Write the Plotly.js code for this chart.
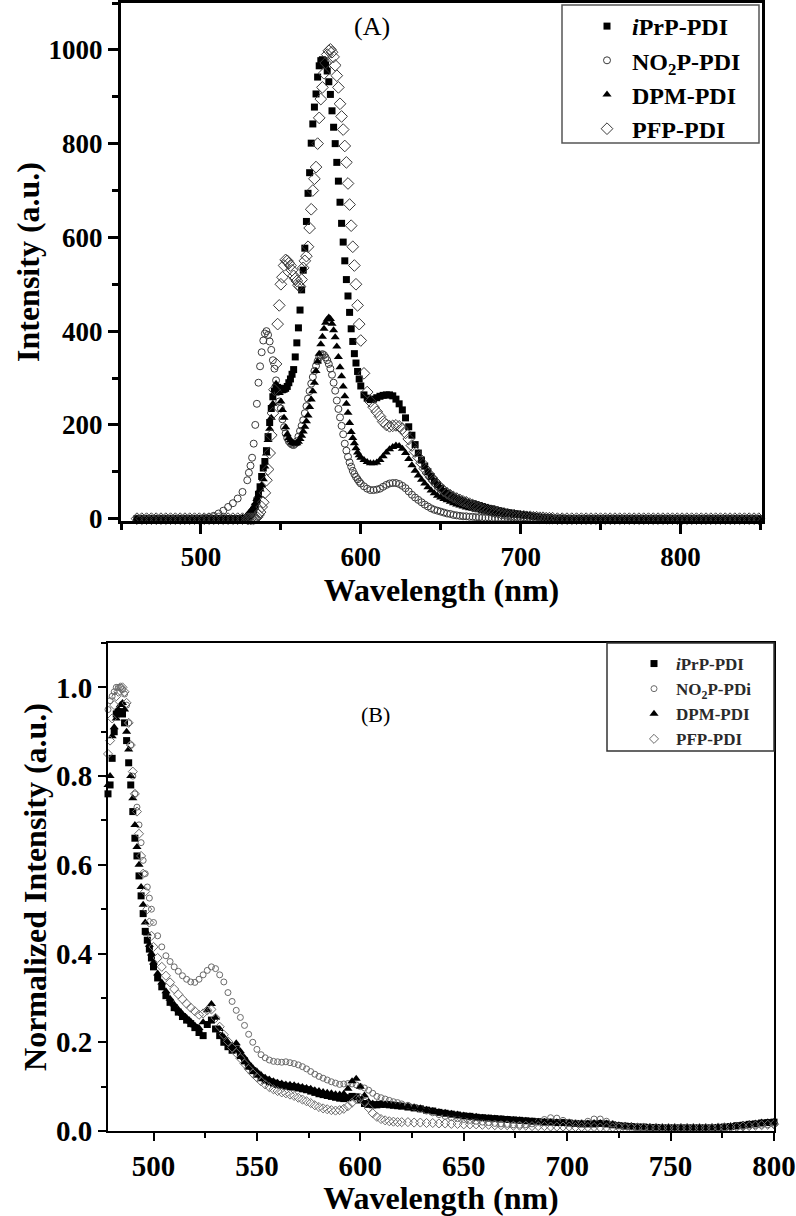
<!DOCTYPE html>
<html>
<head>
<meta charset="utf-8">
<script src="https://cdn.plot.ly/plotly-3.0.1.min.js"></script>
<style>
  body { margin: 0; background: #fff; }
  #chart { width: 796px; height: 1216px; }
</style>
</head>
<body>
<div id="chart"></div>
<script>
// Panel (A): emission spectra, wavelength in nm
const wavelengthA = [
  460,463,466,469,472,475,478,481,484,487,490,493,496,499,502,505,508,511,514,517,520,523,526,529,
  530,531,532,533,534,535,536,537,538,539,540,541,542,543,544,545,546,547,548,549,
  550,551,552,553,554,555,556,557,558,559,560,561,562,563,564,565,566,567,568,569,
  570,571,572,573,574,575,576,577,578,579,580,581,582,583,584,585,586,587,588,589,
  590,591,592,593,594,595,596,597,598,599,600,
  602,604,606,608,610,612,614,616,618,620,622,624,626,628,630,632,634,636,638,640,
  642,644,646,648,650,652,654,656,658,660,662,664,666,668,670,672,674,676,678,680,
  682,684,686,688,690,692,694,696,698,700,702,704,706,708,710,712,714,716,718,720,
  723,726,729,732,735,738,741,744,747,750,753,756,759,762,765,768,771,774,777,780,
  783,786,789,792,795,798,801,804,807,810,813,816,819,822,825,828,831,834,837,840,843,846,849
];

const intensityIPrP = [
  0,0,0,0,0,0,0,0,0,0,0,0,0,0,0,0,0,0,0,0,0,0,0,2,
  5,8,12,18,26,38,52,68,90,108,122,145,175,205,235,260,272,278,280,278,
  275,275,276,278,282,290,298,308,318,345,375,407,445,488,530,577,634,694,738,801,
  842,878,906,942,966,977,979,977,968,955,932,905,870,835,800,760,720,675,630,590,
  550,510,475,440,405,378,352,332,314,298,283,
  264,257,254,255,258,261,263,264,264,262,255,245,232,215,196,178,158,140,125,112,
  100,90,80,72,65,58,54,50,46,43,40,38,35,33,32,30,28,26,24,22,
  21,19,17,16,14,13,12,11,10,9,8,7,6,5,4,3,3,2,2,1,
  1,1,0,0,0,0,0,0,0,0,0,0,0,0,0,0,0,0,0,0,
  0,0,0,0,0,0,0,0,0,0,0,0,0,0,0,0,0,0,0,0,0,0,0
];

const intensityNO2P = [
  0,0,0,0,0,0,0,0,0,0,0,0,0,0,1,3,6,11,17,25,33,43,57,82,
  98,113,130,160,200,245,290,325,355,380,395,400,392,378,360,338,320,295,270,250,
  235,212,195,182,172,165,161,158,157,160,165,175,187,198,210,225,240,256,272,288,
  302,315,326,336,344,349,351,349,344,338,330,320,307,290,273,252,234,216,198,180,
  160,145,132,120,111,102,95,89,84,79,75,
  69,64,61,61,62,64,68,72,75,76,76,74,70,65,58,51,45,40,35,30,
  26,22,19,17,15,13,11,10,8,7,6,5,5,4,4,3,3,2,2,2,
  1,1,1,1,1,1,1,1,0,0,0,0,0,0,0,0,0,0,0,0,
  0,0,0,0,0,0,0,0,0,0,0,0,0,0,0,0,0,0,0,0,
  0,0,0,0,0,0,0,0,0,0,0,0,0,0,0,0,0,0,0,0,0,0,0
];

const intensityDPM = [
  0,0,0,0,0,0,0,0,0,0,0,0,0,0,0,0,0,0,0,0,0,0,2,8,
  12,15,20,25,33,42,50,62,72,84,111,139,168,192,215,245,275,288,280,268,
  250,232,215,195,180,172,167,163,161,160,161,164,170,177,186,196,208,220,238,254,
  272,290,315,335,352,372,388,405,418,425,429,426,416,402,387,367,345,323,304,282,
  261,245,226,204,185,172,161,150,141,135,130,
  125,121,118,118,120,125,133,141,148,153,156,155,149,140,127,114,102,92,83,75,
  67,60,54,49,45,42,39,36,33,30,28,26,24,22,21,19,18,16,15,14,
  12,11,10,9,8,7,7,6,6,5,5,4,4,3,3,2,2,1,1,1,
  0,0,0,0,0,0,0,0,0,0,0,0,0,0,0,0,0,0,0,0,
  0,0,0,0,0,0,0,0,0,0,0,0,0,0,0,0,0,0,0,0,0,0,0
];

const intensityPFP = [
  0,0,0,0,0,0,0,0,0,0,0,0,0,0,0,0,0,0,0,0,0,0,0,0,
  0,0,0,0,1,3,8,14,25,35,55,82,105,140,178,225,275,330,415,455,
  500,515,540,552,550,545,540,530,518,512,507,498,495,510,535,550,560,580,620,660,
  700,725,750,800,855,895,920,950,972,990,998,1001,995,985,967,945,920,885,858,830,
  795,760,715,670,625,580,540,500,455,415,380,
  310,270,250,238,228,218,207,200,197,198,199,197,192,183,170,156,143,131,119,107,
  97,88,80,72,65,59,54,50,46,43,40,37,35,32,29,27,24,22,20,18,
  16,14,13,11,10,9,8,7,6,5,5,4,4,3,3,2,2,1,1,1,
  0,0,0,0,0,0,0,0,0,0,0,0,0,0,0,0,0,0,0,0,
  0,0,0,0,0,0,0,0,0,0,0,0,0,0,0,0,0,0,0,0,0,0,0
];

// Panel (B): normalized spectra
const wavelengthB = [
  478,479,480,481,482,483,484,485,486,487,488,489,490,491,492,493,494,495,496,497,498,499,500,
  502,504,506,508,510,512,514,516,518,520,522,524,526,528,530,532,534,536,538,540,
  542,544,546,548,550,552,554,556,558,560,562,564,566,568,570,572,574,576,578,580,
  582,584,586,588,590,592,594,596,598,600,602,604,606,608,610,612,614,616,618,620,
  623,626,629,632,635,638,641,644,647,650,653,656,659,662,665,668,671,674,677,680,
  683,686,689,692,695,698,701,704,707,710,713,716,719,722,725,728,731,734,737,740,
  743,746,749,752,755,758,761,764,767,770,773,776,779,782,785,788,791,794,797,800
];

const normIPrP = [
  0.76,0.78,0.84,0.9,0.94,0.945,0.945,0.94,0.92,0.88,0.83,0.78,0.72,0.66,0.62,0.575,0.53,0.49,0.45,0.43,0.41,0.39,0.37,
  0.345,0.325,0.305,0.29,0.278,0.268,0.258,0.25,0.242,0.233,0.222,0.215,0.24,0.25,0.23,0.215,0.2,0.19,0.182,0.185,
  0.17,0.158,0.146,0.136,0.128,0.12,0.115,0.111,0.108,0.105,0.103,0.101,0.1,0.099,0.097,0.095,0.093,0.09,0.087,0.084,
  0.082,0.08,0.078,0.076,0.074,0.073,0.075,0.078,0.077,0.07,0.062,0.06,0.059,0.059,0.06,0.06,0.059,0.058,0.057,0.056,
  0.054,0.052,0.05,0.047,0.045,0.042,0.04,0.038,0.036,0.034,0.033,0.031,0.03,0.029,0.028,0.027,0.026,0.025,0.024,0.023,
  0.022,0.021,0.02,0.02,0.019,0.019,0.018,0.017,0.016,0.016,0.016,0.017,0.016,0.014,0.012,0.011,0.01,0.009,0.009,0.008,
  0.008,0.007,0.007,0.007,0.007,0.007,0.007,0.007,0.007,0.007,0.008,0.009,0.01,0.012,0.013,0.015,0.016,0.018,0.019,0.02
];

const normNO2P = [
  0.95,0.97,0.98,0.99,1.0,1.0,1.0,0.995,0.985,0.96,0.92,0.87,0.8,0.76,0.73,0.69,0.65,0.61,0.58,0.55,0.525,0.5,0.47,
  0.44,0.415,0.395,0.382,0.37,0.36,0.35,0.342,0.336,0.335,0.342,0.352,0.362,0.37,0.366,0.352,0.336,0.312,0.292,0.272,
  0.256,0.238,0.218,0.2,0.184,0.172,0.165,0.16,0.157,0.156,0.155,0.156,0.154,0.152,0.149,0.145,0.14,0.134,0.128,0.123,
  0.119,0.115,0.111,0.108,0.105,0.106,0.107,0.106,0.104,0.1,0.097,0.092,0.085,0.078,0.075,0.072,0.069,0.066,0.064,0.061,
  0.058,0.054,0.049,0.045,0.041,0.037,0.033,0.03,0.028,0.026,0.024,0.022,0.02,0.019,0.017,0.016,0.015,0.014,0.013,0.014,
  0.016,0.02,0.026,0.03,0.029,0.024,0.02,0.018,0.018,0.022,0.027,0.027,0.022,0.016,0.012,0.01,0.009,0.008,0.008,0.007,
  0.007,0.007,0.006,0.006,0.006,0.006,0.006,0.006,0.006,0.007,0.007,0.007,0.008,0.009,0.01,0.011,0.012,0.013,0.014,0.015
];

const normDPM = [
  0.78,0.8,0.89,0.91,0.93,0.95,0.96,0.965,0.95,0.9,0.86,0.8,0.75,0.69,0.64,0.6,0.55,0.51,0.47,0.445,0.42,0.4,0.38,
  0.355,0.335,0.315,0.298,0.285,0.274,0.264,0.255,0.247,0.238,0.232,0.245,0.272,0.286,0.255,0.23,0.212,0.2,0.192,0.198,
  0.18,0.165,0.152,0.142,0.134,0.126,0.12,0.116,0.112,0.109,0.107,0.105,0.104,0.103,0.101,0.099,0.097,0.095,0.092,0.09,
  0.088,0.086,0.085,0.083,0.082,0.084,0.095,0.112,0.118,0.1,0.08,0.066,0.062,0.061,0.061,0.06,0.059,0.058,0.057,0.056,
  0.055,0.053,0.051,0.048,0.045,0.043,0.041,0.039,0.037,0.035,0.033,0.032,0.03,0.029,0.028,0.027,0.026,0.025,0.024,0.023,
  0.022,0.021,0.021,0.02,0.02,0.019,0.018,0.017,0.017,0.017,0.018,0.018,0.017,0.015,0.013,0.012,0.011,0.01,0.009,0.009,
  0.008,0.008,0.008,0.008,0.008,0.008,0.008,0.008,0.008,0.008,0.009,0.01,0.011,0.012,0.014,0.016,0.017,0.019,0.02,0.021
];

const normPFP = [
  0.85,0.88,0.93,0.96,0.98,0.99,1.0,1.0,0.99,0.965,0.92,0.87,0.81,0.76,0.72,0.67,0.62,0.58,0.54,0.5,0.47,0.44,0.415,
  0.39,0.37,0.35,0.335,0.32,0.308,0.297,0.287,0.278,0.27,0.262,0.265,0.272,0.274,0.255,0.235,0.217,0.202,0.188,0.176,
  0.164,0.152,0.14,0.13,0.121,0.112,0.105,0.099,0.094,0.09,0.087,0.085,0.082,0.079,0.075,0.071,0.067,0.063,0.058,0.054,
  0.051,0.049,0.047,0.046,0.047,0.05,0.056,0.064,0.072,0.074,0.066,0.052,0.04,0.032,0.027,0.024,0.022,0.021,0.02,0.02,
  0.02,0.019,0.019,0.018,0.018,0.017,0.017,0.016,0.016,0.015,0.015,0.015,0.014,0.014,0.013,0.013,0.013,0.012,0.012,0.012,
  0.011,0.011,0.011,0.01,0.01,0.01,0.01,0.009,0.009,0.009,0.009,0.008,0.008,0.008,0.008,0.007,0.007,0.007,0.007,0.007,
  0.007,0.007,0.007,0.007,0.007,0.007,0.007,0.007,0.007,0.007,0.008,0.008,0.009,0.009,0.01,0.011,0.012,0.013,0.014,0.015
];

const seriesNamesA = ['<i>i</i>PrP-PDI', 'NO<sub>2</sub>P-PDI', 'DPM-PDI', 'PFP-PDI'];
const seriesNamesB = ['<i>i</i>PrP-PDI', 'NO<sub>2</sub>P-PDi', 'DPM-PDI', 'PFP-PDI'];

const serif = 'Liberation Serif, Times New Roman, serif';

// marker look per series: filled square, open circle, filled triangle, open diamond
const markerSymbols = ['square', 'circle-open', 'triangle-up', 'diamond-open'];

function makeTraces(x, ys, names, xa, ya, legendId, sizes, openColor) {
  return ys.map((y, i) => {
    const sym = markerSymbols[i];
    const col = sym.endsWith('open') ? openColor : '#000';
    return {
      x: x,
      y: y,
      type: 'scatter',
      mode: 'markers',
      name: names[i],
      xaxis: xa,
      yaxis: ya,
      legend: legendId,
      legendgroup: legendId + i,
      cliponaxis: false,
      marker: {
        symbol: sym,
        size: sizes[i],
        color: col,
        line: { width: sym.endsWith('open') ? 1 : 0, color: col }
      },
      hoverinfo: 'skip'
    };
  });
}

const tracesA = makeTraces(
  wavelengthA,
  [intensityIPrP, intensityNO2P, intensityDPM, intensityPFP],
  seriesNamesA, 'x', 'y', 'legend', [7, 7, 8, 9], '#3a3a3a'
);
const tracesB = makeTraces(
  wavelengthB,
  [normIPrP, normNO2P, normDPM, normPFP],
  seriesNamesB, 'x2', 'y2', 'legend2', [7, 6, 8, 7], '#6a6a6a'
);

const tickFontA = { family: serif, size: 27, weight: 'bold', color: '#000' };
const tickFontB = { family: serif, size: 29, weight: 'bold', color: '#000' };
const titleFont = { family: serif, size: 32, weight: 'bold', color: '#000' };

function axisBase(lw, tl, tw) {
  return {
    showline: true, linewidth: lw, linecolor: '#000', mirror: true,
    ticks: 'outside', ticklen: tl, tickwidth: tw, tickcolor: '#000',
    showgrid: false, zeroline: false
  };
}

// panel boxes in page pixels
const boxA = { l: 121, r: 762, t: 3, b: 521 };
const boxB = { l: 108, r: 774, t: 643, b: 1131 };
const W = 796, H = 1216;

const layout = {
  width: W,
  height: H,
  margin: { l: 0, r: 0, t: 0, b: 0 },
  paper_bgcolor: '#fff',
  plot_bgcolor: '#fff',
  showlegend: true,
  xaxis: Object.assign(axisBase(3, 10, 3), {
    domain: [boxA.l / W, boxA.r / W], anchor: 'y',
    range: [450, 851], tick0: 0, dtick: 100,
    minor: { ticks: 'outside', ticklen: 6, tickwidth: 3, tickcolor: '#000', dtick: 50, tick0: 0 },
    tickfont: tickFontA,
    title: { text: 'Wavelength (nm)', font: titleFont, standoff: 8 }
  }),
  yaxis: Object.assign(axisBase(3, 10, 3), {
    domain: [1 - boxA.b / H, 1 - boxA.t / H], anchor: 'x',
    range: [-5, 1100], tick0: 0, dtick: 200,
    minor: { ticks: 'outside', ticklen: 6, tickwidth: 3, tickcolor: '#000', dtick: 100, tick0: 0 },
    tickfont: tickFontA,
    title: { text: 'Intensity (a.u.)', font: titleFont, standoff: 0 }
  }),
  xaxis2: Object.assign(axisBase(2, 8, 2), {
    domain: [boxB.l / W, boxB.r / W], anchor: 'y2',
    range: [478, 800], tick0: 0, dtick: 50,
    minor: { ticks: 'outside', ticklen: 5, tickwidth: 2, tickcolor: '#000', dtick: 25, tick0: 0 },
    tickfont: tickFontB,
    title: { text: 'Wavelength (nm)', font: titleFont, standoff: 2 }
  }),
  yaxis2: Object.assign(axisBase(2, 8, 2), {
    domain: [1 - boxB.b / H, 1 - boxB.t / H], anchor: 'x2',
    range: [0, 1.1], tick0: 0, dtick: 0.2, tickformat: '.1f',
    minor: { ticks: 'outside', ticklen: 5, tickwidth: 2, tickcolor: '#000', dtick: 0.1, tick0: 0 },
    tickfont: tickFontB,
    title: { text: 'Normalized Intensity (a.u.)', font: titleFont, standoff: 0 }
  }),
  legend: {
    x: 582 / W, xanchor: 'left', y: 1 - 4 / H, yanchor: 'top',
    bgcolor: 'rgba(0,0,0,0)', borderwidth: 0,
    font: { family: serif, size: 24, weight: 'bold', color: '#000' },
    itemwidth: 40, tracegroupgap: 0, traceorder: 'grouped', itemsizing: 'trace'
  },
  legend2: {
    x: 632 / W, xanchor: 'left', y: 1 - 646 / H, yanchor: 'top',
    bgcolor: 'rgba(0,0,0,0)', borderwidth: 0,
    font: { family: serif, size: 17, weight: 'bold', color: '#2a2a2a' },
    itemwidth: 34, tracegroupgap: 0, traceorder: 'grouped', itemsizing: 'trace'
  },
  // legend frames
  shapes: [
    {
      type: 'rect', xref: 'paper', yref: 'paper',
      x0: 562 / W, x1: 759 / W, y0: 1 - 143 / H, y1: 1 - 5 / H,
      line: { color: '#555', width: 1.5 }, fillcolor: 'rgba(0,0,0,0)'
    },
    {
      type: 'rect', xref: 'paper', yref: 'paper',
      x0: 607 / W, x1: 774 / W, y0: 1 - 751 / H, y1: 1 - 643 / H,
      line: { color: '#333', width: 1.5 }, fillcolor: 'rgba(0,0,0,0)'
    }
  ],
  annotations: [
    {
      text: '(A)', xref: 'paper', yref: 'paper',
      x: 372 / W, y: 1 - 27 / H, xanchor: 'center', yanchor: 'middle',
      showarrow: false, font: { family: serif, size: 26, color: '#000' }
    },
    {
      text: '(B)', xref: 'paper', yref: 'paper',
      x: 375 / W, y: 1 - 714 / H, xanchor: 'center', yanchor: 'middle',
      showarrow: false, font: { family: serif, size: 22, color: '#000' }
    }
  ]
};

Plotly.newPlot('chart', [...tracesA, ...tracesB], layout, {
  displayModeBar: false,
  staticPlot: true
});
</script>
</body>
</html>
